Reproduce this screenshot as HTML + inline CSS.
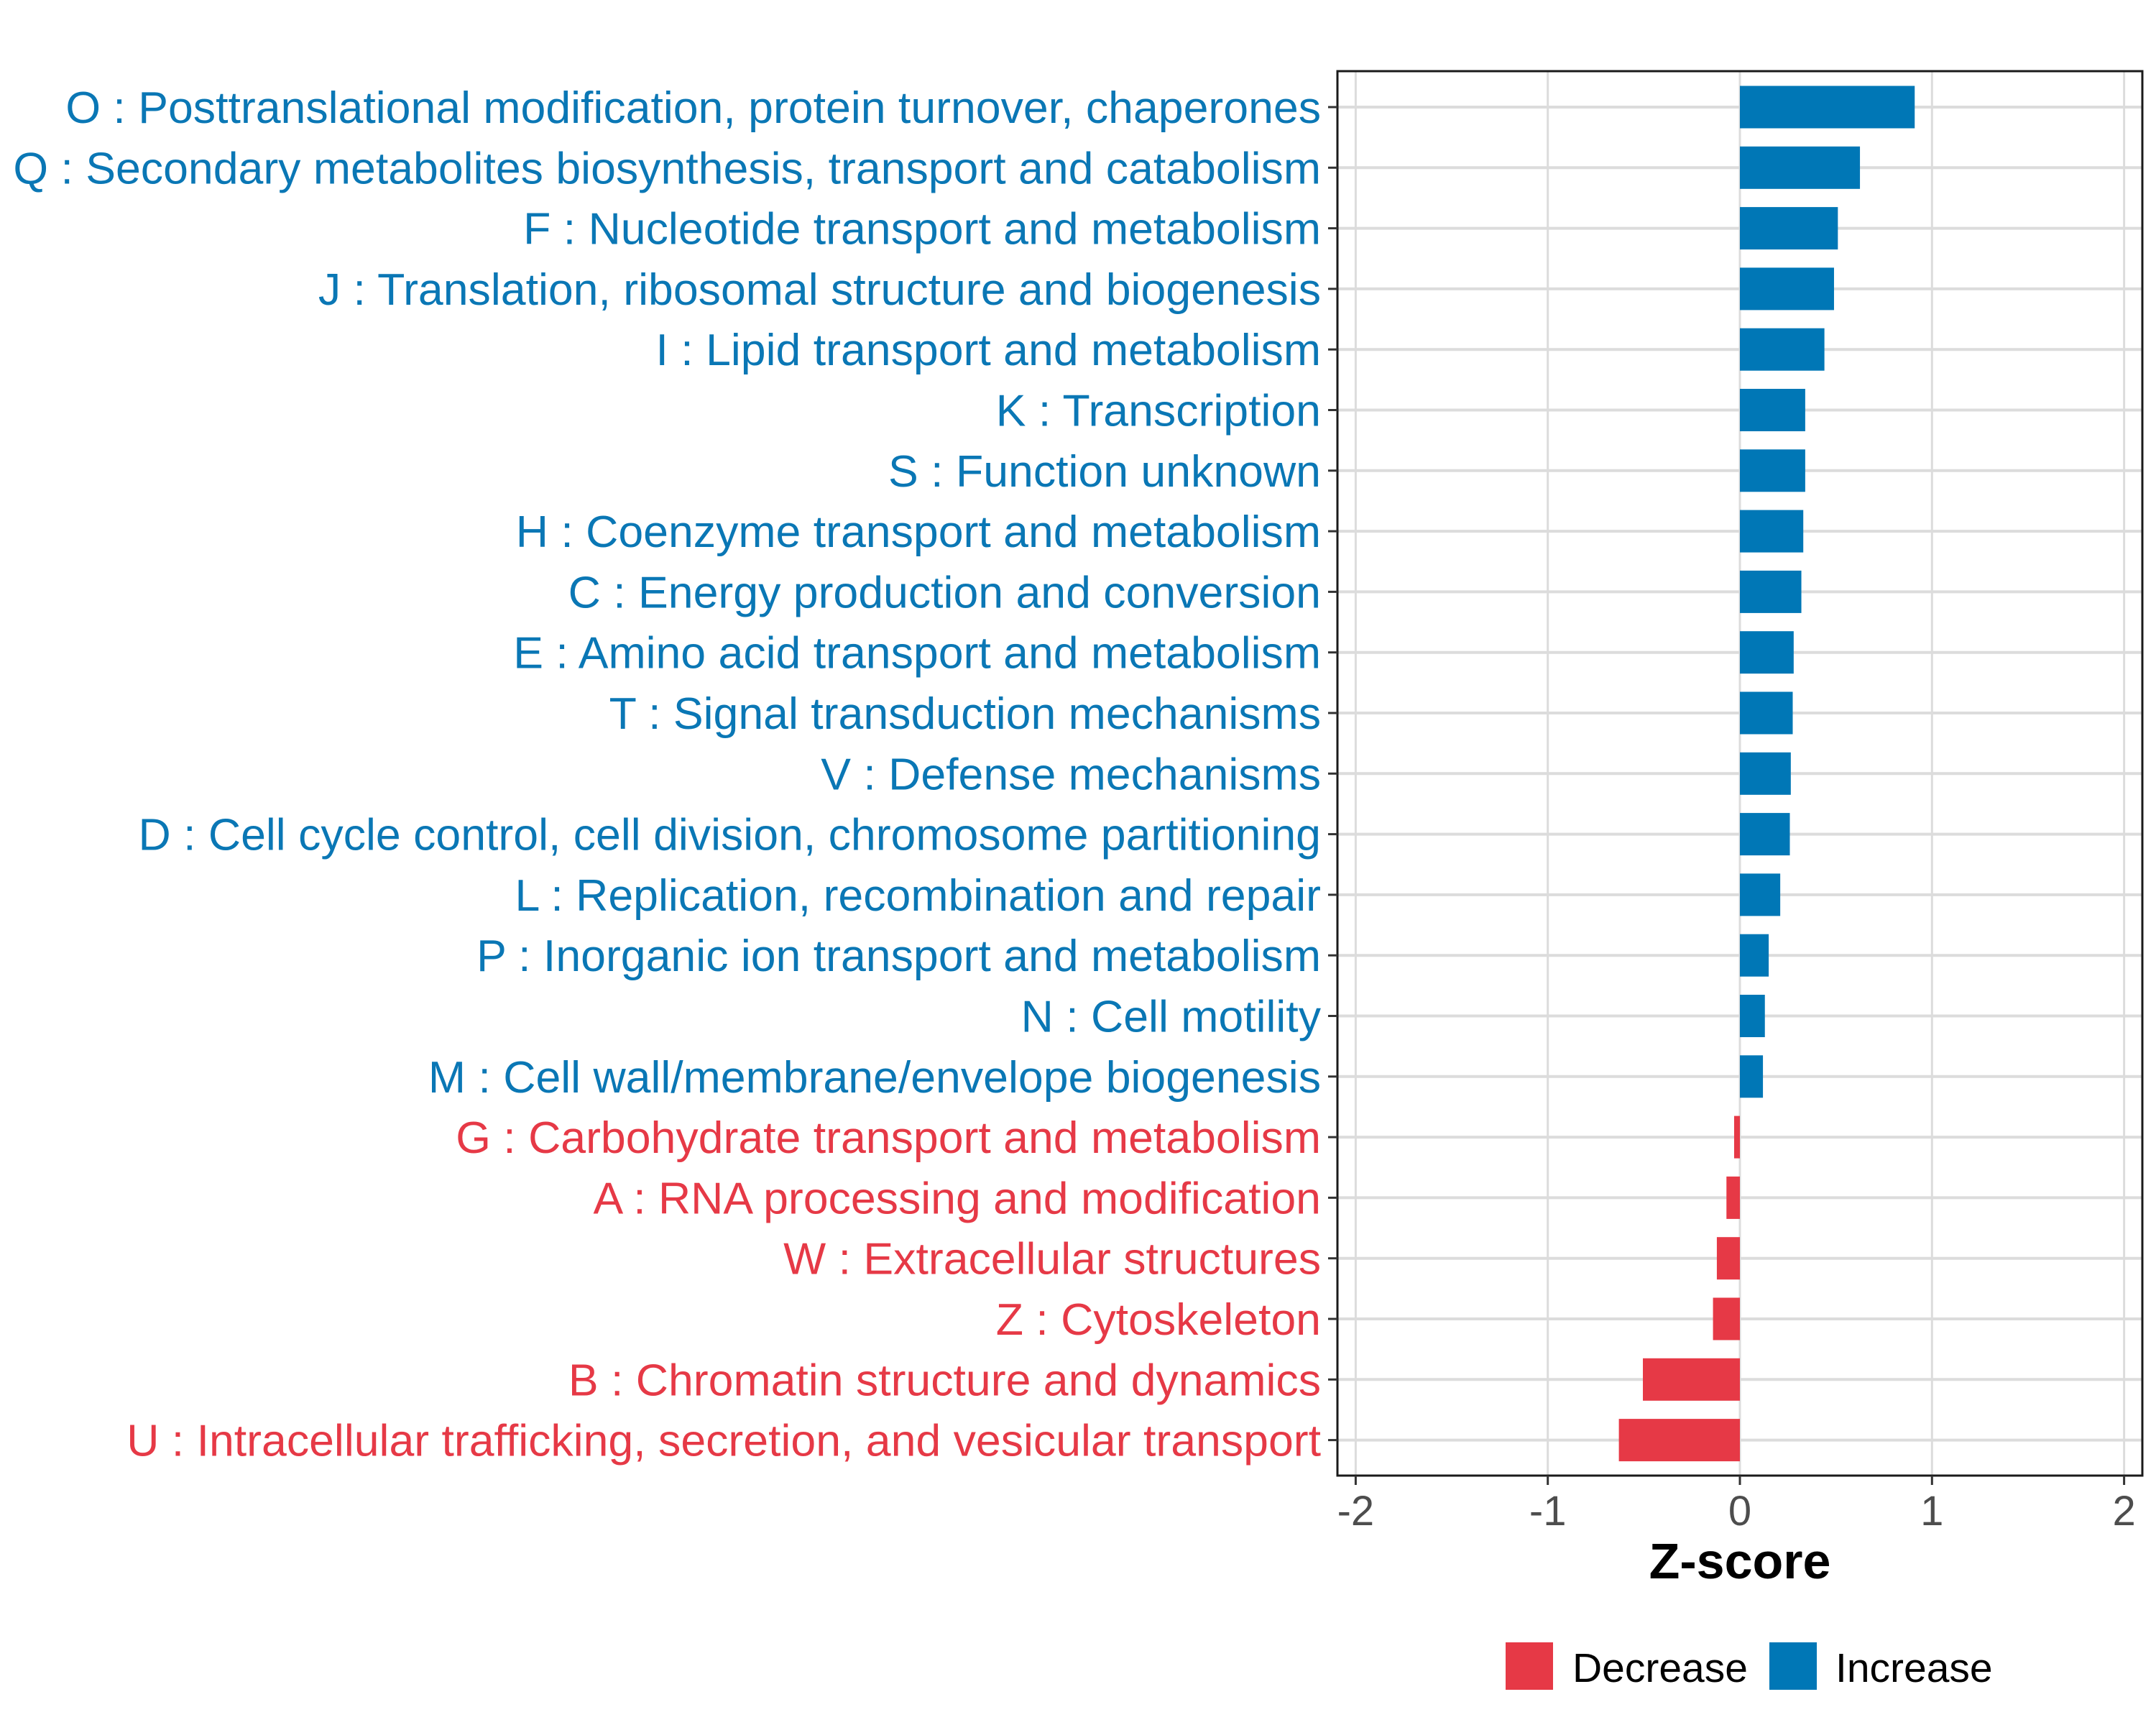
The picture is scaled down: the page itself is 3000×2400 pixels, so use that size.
<!DOCTYPE html>
<html><head><meta charset="utf-8"><style>
html,body{margin:0;padding:0;background:#fff;}
svg{display:block;font-family:"Liberation Sans",Arial,sans-serif;}
</style></head><body>
<svg id="chart" width="3000" height="2400" viewBox="0 0 3000 2400">
<g id="grid"></g>
<g id="bars"></g>
<rect x="1861" y="99" width="1120" height="1954" fill="none" stroke="#1a1a1a" stroke-width="3"/>
<g id="ylabels"></g>
<g id="xticks"></g>
<text x="2421" y="2196" text-anchor="middle" font-size="70" font-weight="bold" fill="#000">Z-score</text>
<g>
<rect x="2095" y="2285" width="66" height="66" fill="#E63946"/>
<text x="2188" y="2340" font-size="57" fill="#000">Decrease</text>
<rect x="2462" y="2285" width="66" height="66" fill="#0077B6"/>
<text x="2554" y="2340" font-size="57" fill="#000">Increase</text>
</g>
</svg>
<script>
const categories = [
"O : Posttranslational modification, protein turnover, chaperones",
"Q : Secondary metabolites biosynthesis, transport and catabolism",
"F : Nucleotide transport and metabolism",
"J : Translation, ribosomal structure and biogenesis",
"I : Lipid transport and metabolism",
"K : Transcription",
"S : Function unknown",
"H : Coenzyme transport and metabolism",
"C : Energy production and conversion",
"E : Amino acid transport and metabolism",
"T : Signal transduction mechanisms",
"V : Defense mechanisms",
"D : Cell cycle control, cell division, chromosome partitioning",
"L : Replication, recombination and repair",
"P : Inorganic ion transport and metabolism",
"N : Cell motility",
"M : Cell wall/membrane/envelope biogenesis",
"G : Carbohydrate transport and metabolism",
"A : RNA processing and modification",
"W : Extracellular structures",
"Z : Cytoskeleton",
"B : Chromatin structure and dynamics",
"U : Intracellular trafficking, secretion, and vesicular transport"];
const zscores = [0.91,0.625,0.51,0.49,0.44,0.34,0.34,0.33,0.32,0.28,0.275,0.265,0.26,0.21,0.15,0.13,0.12,-0.03,-0.07,-0.12,-0.14,-0.505,-0.63];
const xTicks = [-2,-1,0,1,2];
const xTickLabels = ["-2","-1","0","1","2"];

const NS="http://www.w3.org/2000/svg";
const X0=2421, UNIT=267.3, Y0=149, STEP=84.3, BH=59;
const xs=v=>X0+v*UNIT;
const ys=i=>Y0+i*STEP;
function mk(tag,attrs,parent){const e=document.createElementNS(NS,tag);for(const k in attrs)e.setAttribute(k,attrs[k]);parent.appendChild(e);return e;}
const grid=document.getElementById('grid'),bars=document.getElementById('bars'),yl=document.getElementById('ylabels'),xt=document.getElementById('xticks');
xTicks.forEach((t,i)=>{
  const g=mk('line',{x1:xs(t),x2:xs(t),y1:99,y2:2053,stroke:'#dcdcdc','stroke-width':3},grid);
  
  
  const tk=mk('line',{x1:xs(t),x2:xs(t),y1:2053,y2:2066,stroke:'#333','stroke-width':3},xt);
  
  
  const tl=mk('text',{x:xs(t),y:2122,'text-anchor':'middle','font-size':58,fill:'#4d4d4d'},xt);
  tl.textContent=xTickLabels[i];
  
  
});
categories.forEach((c,i)=>{
  const y=ys(i), v=zscores[i], col=v<0?'#E63946':'#0077B6';
  const g=mk('line',{x1:1861,x2:2981,y1:y,y2:y,stroke:'#dcdcdc','stroke-width':4},grid);
  
  
  const b=mk('rect',{x:Math.min(xs(0),xs(v)),y:y-BH/2,width:Math.abs(xs(v)-xs(0)),height:BH,fill:col},bars);
  
  
  const tk=mk('line',{x1:1848,x2:1861,y1:y,y2:y,stroke:'#333','stroke-width':3},yl);
  
  
  const t=mk('text',{x:1838,y:y+22,'text-anchor':'end','font-size':62.6,fill:v<0?'#E63946':'#0A77B5'},yl);
  t.textContent=c;
  
  
});
</script>
</body></html>
